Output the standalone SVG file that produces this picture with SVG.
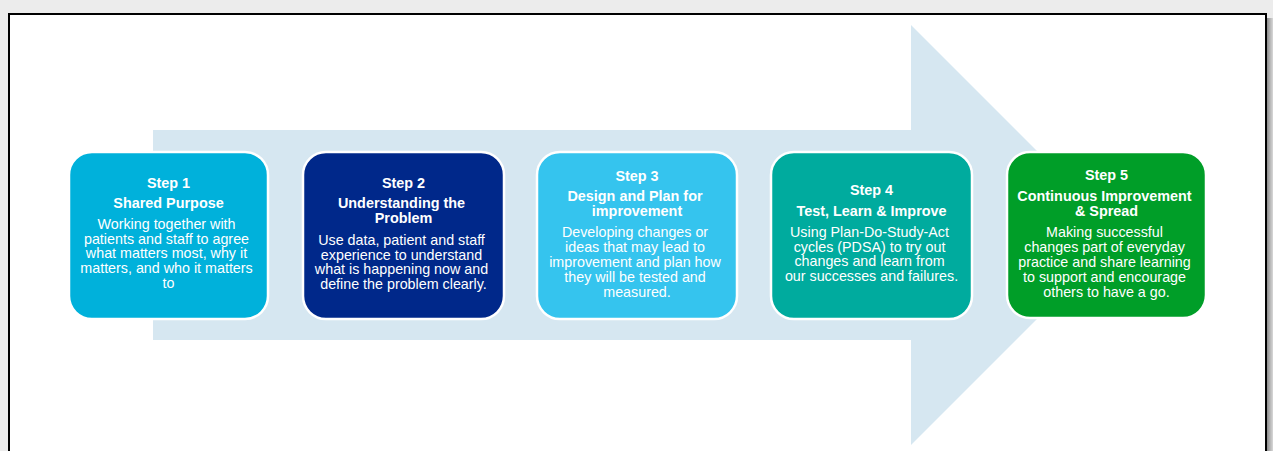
<svg xmlns="http://www.w3.org/2000/svg" width="1273" height="451" viewBox="0 0 1273 451">
  <style>
    .box { stroke: #ffffff; stroke-width: 2.5; }
    .head { font-family: "Liberation Sans", Arial, sans-serif; font-size: 14.4px; font-weight: bold; fill: #ffffff; text-anchor: middle; }
    .body { font-family: "Liberation Sans", Arial, sans-serif; font-size: 14.3px; fill: #ffffff; text-anchor: middle; }
  </style>
  <defs>
    <linearGradient id="shadowRight" x1="0" y1="0" x2="1" y2="0">
      <stop offset="0" stop-color="#8c8c8c"/>
      <stop offset="0.5" stop-color="#b4b4b4"/>
      <stop offset="1" stop-color="#d8d8d8"/>
    </linearGradient>
  </defs>

  <!-- page backdrop and framed canvas -->
  <rect x="0" y="0" width="1273" height="451" fill="#ececec"/>
  <rect x="1267" y="18" width="6" height="433" fill="url(#shadowRight)"/>
  <rect x="9" y="14" width="1257" height="445" fill="#ffffff" stroke="#000000" stroke-width="2"/>

  <!-- large background arrow -->
  <g id="arrow">
    <polygon points="153,130 911,130 911,25 1121,235 911,445 911,340 153,340" fill="#d6e7f1"/>
  </g>

  <g id="connectors"></g>

  <g id="step1">
    <rect class="box" x="69" y="152" width="199" height="167" rx="23" fill="#00b1db"/>
    <text class="head" x="168.5" y="188">Step 1</text>
    <text class="head" x="168.5" y="208">Shared Purpose</text>
    <text class="body" x="168.5" y="229">
      <tspan x="168.5" y="229">Working together with</tspan>
      <tspan x="168.5" y="243.7">patients and staff to agree</tspan>
      <tspan x="168.5" y="258.4">what matters most, why it</tspan>
      <tspan x="168.5" y="273.1">matters, and who it matters</tspan>
      <tspan x="168.5" y="287.8">to</tspan>
    </text>
  </g>

  <g id="step2">
    <rect class="box" x="303" y="152" width="201" height="167" rx="23" fill="#00288a"/>
    <text class="head" x="403.5" y="188">Step 2</text>
    <text class="head" x="403.5" y="208">
      <tspan x="403.5" y="208">Understanding the</tspan>
      <tspan x="403.5" y="222.5">Problem</tspan>
    </text>
    <text class="body" x="403.5" y="245">
      <tspan x="403.5" y="245">Use data, patient and staff</tspan>
      <tspan x="403.5" y="259.5">experience to understand</tspan>
      <tspan x="403.5" y="274">what is happening now and</tspan>
      <tspan x="403.5" y="288.5">define the problem clearly.</tspan>
    </text>
  </g>

  <g id="step3">
    <rect class="box" x="537" y="152" width="200" height="167" rx="23" fill="#35c4ee"/>
    <text class="head" x="637" y="181">Step 3</text>
    <text class="head" x="637" y="201">
      <tspan x="637" y="201">Design and Plan for</tspan>
      <tspan x="637" y="215.5">improvement</tspan>
    </text>
    <text class="body" x="637" y="237">
      <tspan x="637" y="237">Developing changes or</tspan>
      <tspan x="637" y="252">ideas that may lead to</tspan>
      <tspan x="637" y="266.5">improvement and plan how</tspan>
      <tspan x="637" y="281.5">they will be tested and</tspan>
      <tspan x="637" y="296.5">measured.</tspan>
    </text>
  </g>

  <g id="step4">
    <rect class="box" x="771" y="152" width="201" height="167" rx="23" fill="#00ab9e"/>
    <text class="head" x="871.5" y="195">Step 4</text>
    <text class="head" x="871.5" y="216">Test, Learn &amp; Improve</text>
    <text class="body" x="871.5" y="236.5">
      <tspan x="871.5" y="236.5">Using Plan-Do-Study-Act</tspan>
      <tspan x="871.5" y="251.5">cycles (PDSA) to try out</tspan>
      <tspan x="871.5" y="266">changes and learn from</tspan>
      <tspan x="871.5" y="281">our successes and failures.</tspan>
    </text>
  </g>

  <g id="step5">
    <rect class="box" x="1007" y="152" width="199" height="166" rx="23" fill="#009e28"/>
    <text class="head" x="1106.5" y="180">Step 5</text>
    <text class="head" x="1106.5" y="201">
      <tspan x="1106.5" y="201">Continuous Improvement</tspan>
      <tspan x="1106.5" y="215.5">&amp; Spread</tspan>
    </text>
    <text class="body" x="1106.5" y="237">
      <tspan x="1106.5" y="237">Making successful</tspan>
      <tspan x="1106.5" y="252">changes part of everyday</tspan>
      <tspan x="1106.5" y="266.5">practice and share learning</tspan>
      <tspan x="1106.5" y="281.5">to support and encourage</tspan>
      <tspan x="1106.5" y="296.5">others to have a go.</tspan>
    </text>
  </g>
</svg>
